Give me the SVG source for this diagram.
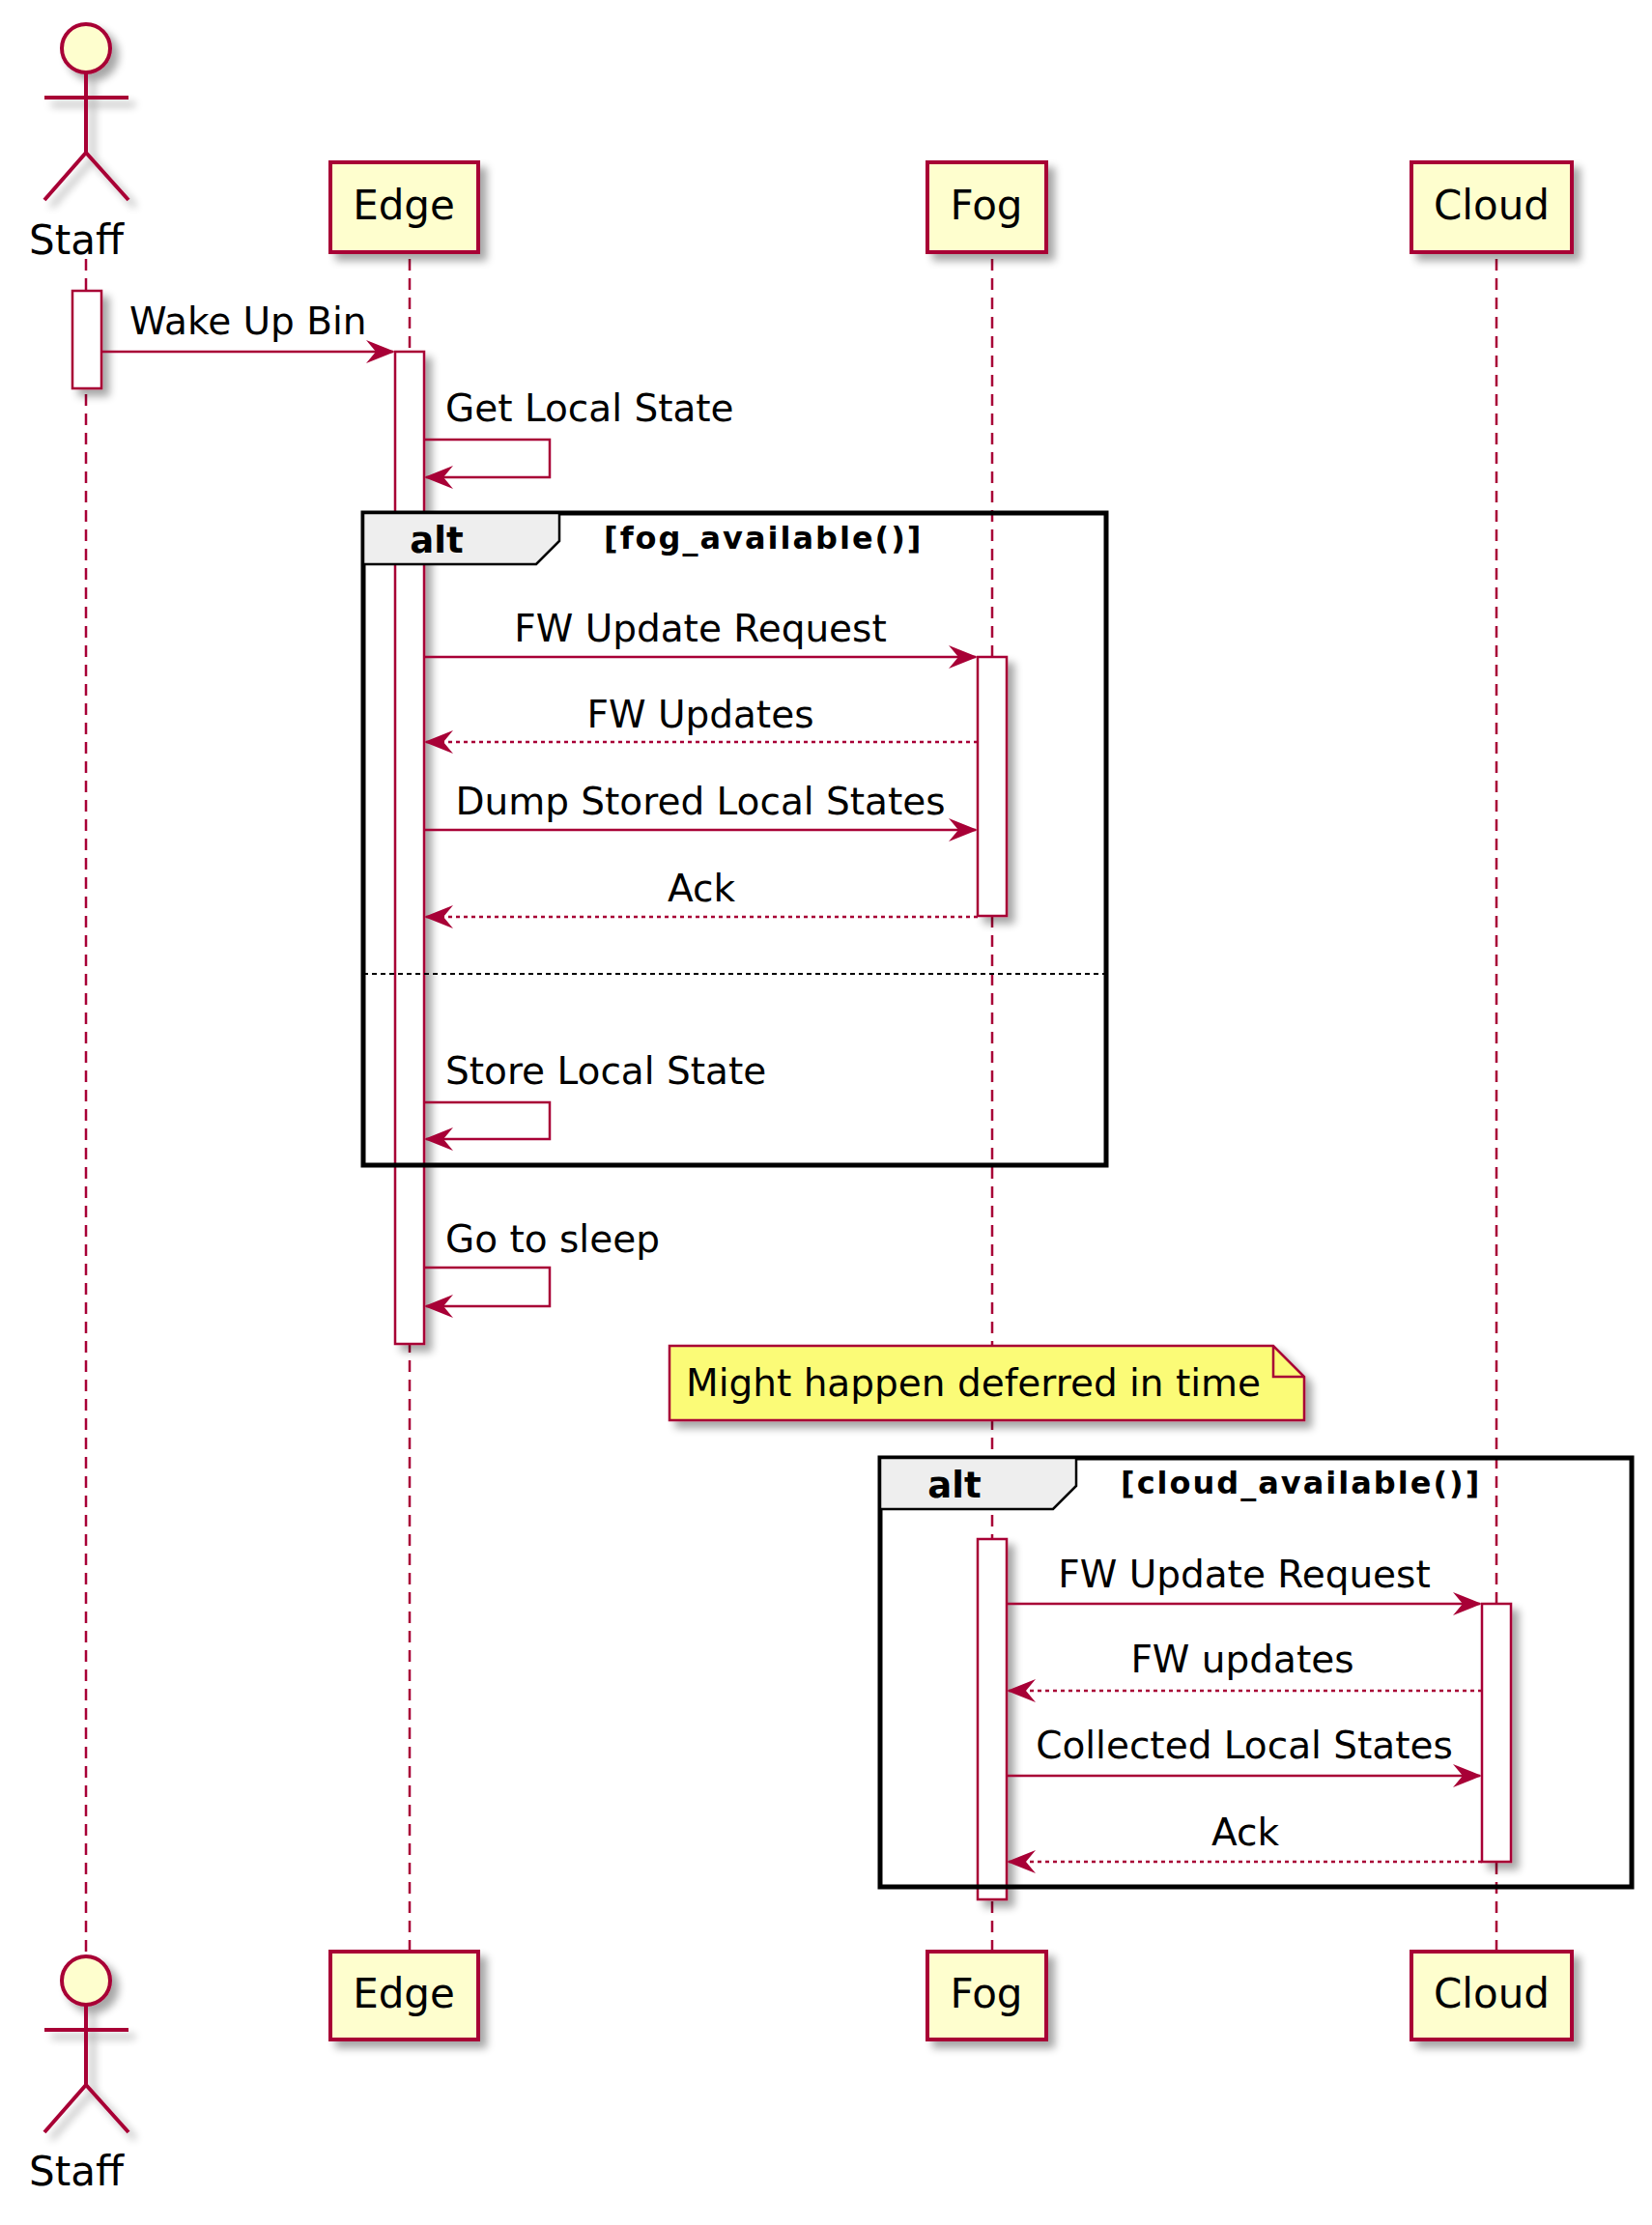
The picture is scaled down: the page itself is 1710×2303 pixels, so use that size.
<svg xmlns="http://www.w3.org/2000/svg" width="1710" height="2303" viewBox="0 0 1710 2303">
<defs>
<filter id="sh" x="-20%" y="-20%" width="150%" height="150%"><feGaussianBlur in="SourceAlpha" stdDeviation="4"/><feOffset dx="7" dy="7"/><feComponentTransfer><feFuncA type="linear" slope="0.35"/></feComponentTransfer><feMerge><feMergeNode/><feMergeNode in="SourceGraphic"/></feMerge></filter>
<marker id="ah" viewBox="0 0 30 24" refX="28" refY="12" markerWidth="30" markerHeight="24" markerUnits="userSpaceOnUse" orient="auto"><path d="M0,0 L30,12 L0,24 L10,12 Z" fill="#A80036"/></marker>
</defs>
<style>
.ll{stroke:#A80036;stroke-width:2.5;stroke-dasharray:12,8;fill:none}
.box{fill:#FEFECE;stroke:#A80036;stroke-width:4}
.act{fill:#FFFFFF;stroke:#A80036;stroke-width:2.5}
.msg{stroke:#A80036;stroke-width:2.5;fill:none;marker-end:url(#ah)}
.ret{stroke:#A80036;stroke-width:2.5;fill:none;stroke-dasharray:4,4;marker-end:url(#ah)}
.t{font-family:"DejaVu Sans",sans-serif;font-size:39px;fill:#000}
.pt{font-family:"DejaVu Sans",sans-serif;font-size:42px;fill:#000}
.frame{fill:none;stroke:#000;stroke-width:5}
.tab{fill:#EEEEEE;stroke:#000;stroke-width:2.5}
.ab{font-family:"DejaVu Sans",sans-serif;font-size:37px;font-weight:bold}
.cb{font-family:"DejaVu Sans",sans-serif;font-size:32px;font-weight:bold;letter-spacing:2px}
</style>
<g id="lifelines">
<line class="ll" x1="89" y1="268" x2="89" y2="2030"/>
<line class="ll" x1="424" y1="268" x2="424" y2="2020"/>
<line class="ll" x1="1027" y1="268" x2="1027" y2="2020"/>
<line class="ll" x1="1549" y1="268" x2="1549" y2="2020"/>
</g>
<g id="staff-top" filter="url(#sh)" stroke="#A80036" stroke-width="4" fill="none">
<circle cx="89" cy="50" r="25" fill="#FEFECE"/>
<line x1="89" y1="75" x2="89" y2="158"/><line x1="46" y1="101" x2="133" y2="101"/>
<polyline points="46,207 89,158 133,207"/>
</g>
<text class="pt" x="79" y="263" text-anchor="middle">Staff</text>
<g id="edge-top"><rect class="box" x="342" y="168" width="153" height="93" filter="url(#sh)"/><text class="pt" x="418" y="227" text-anchor="middle">Edge</text></g>
<g id="fog-top"><rect class="box" x="960" y="168" width="123" height="93" filter="url(#sh)"/><text class="pt" x="1021" y="227" text-anchor="middle">Fog</text></g>
<g id="cloud-top"><rect class="box" x="1461" y="168" width="166" height="93" filter="url(#sh)"/><text class="pt" x="1544" y="227" text-anchor="middle">Cloud</text></g>
<g id="staff-bottom">
<g filter="url(#sh)" stroke="#A80036" stroke-width="4" fill="none">
<circle cx="89" cy="2050" r="25" fill="#FEFECE"/>
<line x1="89" y1="2075" x2="89" y2="2158"/><line x1="46" y1="2101" x2="133" y2="2101"/>
<polyline points="46,2207 89,2158 133,2207"/></g>
<text class="pt" x="79" y="2262" text-anchor="middle">Staff</text>
</g>
<g id="edge-bottom"><rect class="box" x="342" y="2020" width="153" height="91" filter="url(#sh)"/><text class="pt" x="418" y="2078" text-anchor="middle">Edge</text></g>
<g id="fog-bottom"><rect class="box" x="960" y="2020" width="123" height="91" filter="url(#sh)"/><text class="pt" x="1021" y="2078" text-anchor="middle">Fog</text></g>
<g id="cloud-bottom"><rect class="box" x="1461" y="2020" width="166" height="91" filter="url(#sh)"/><text class="pt" x="1544" y="2078" text-anchor="middle">Cloud</text></g>
<g id="activations" filter="url(#sh)">
<rect class="act" x="75" y="301" width="30" height="101"/>
<rect class="act" x="409" y="364" width="30" height="1027"/>
<rect class="act" x="1012" y="680" width="30" height="268"/>
<rect class="act" x="1012" y="1593" width="30" height="373"/>
<rect class="act" x="1534" y="1660" width="30" height="267"/>
</g>
<g id="alt1">
<rect class="frame" x="376" y="531" width="769" height="675"/>
<path class="tab" d="M376,531 H579 V560 L555,584 H376 Z"/>
<text class="ab" x="452" y="572" text-anchor="middle">alt</text>
<text class="cb" x="625" y="568">[fog_available()]</text>
<line x1="376" y1="1008" x2="1145" y2="1008" stroke="#000" stroke-width="2" stroke-dasharray="5,4"/>
</g>
<g id="note">
<path d="M693,1393 H1318 L1350,1425 V1470 H693 Z" fill="#FBFB77" stroke="#A80036" stroke-width="2.5" filter="url(#sh)"/>
<path d="M1318,1393 V1425 H1350" fill="none" stroke="#A80036" stroke-width="2.5"/>
<text class="t" x="710" y="1445">Might happen deferred in time</text>
</g>
<g id="alt2">
<rect class="frame" x="911" y="1509" width="778" height="444"/>
<path class="tab" d="M911,1509 H1114 V1538 L1090,1562 H911 Z"/>
<text class="ab" x="988" y="1550" text-anchor="middle">alt</text>
<text class="cb" x="1160" y="1546">[cloud_available()]</text>
</g>
<g id="connectors">
<line class="msg" x1="105" y1="364" x2="407" y2="364"/>
<polyline class="msg" points="439,455 569,455 569,494 441,494"/>
<line class="msg" x1="439" y1="680" x2="1010" y2="680"/>
<line class="ret" x1="1012" y1="768" x2="441" y2="768"/>
<line class="msg" x1="439" y1="859" x2="1010" y2="859"/>
<line class="ret" x1="1012" y1="949" x2="441" y2="949"/>
<polyline class="msg" points="439,1141 569,1141 569,1179 441,1179"/>
<polyline class="msg" points="439,1312 569,1312 569,1352 441,1352"/>
<line class="msg" x1="1042" y1="1660" x2="1532" y2="1660"/>
<line class="ret" x1="1534" y1="1750" x2="1044" y2="1750"/>
<line class="msg" x1="1042" y1="1838" x2="1532" y2="1838"/>
<line class="ret" x1="1534" y1="1927" x2="1044" y2="1927"/>
</g>
<g id="labels">
<text class="t" x="134" y="346">Wake Up Bin</text>
<text class="t" x="461" y="436">Get Local State</text>
<text class="t" x="725" y="664" text-anchor="middle">FW Update Request</text>
<text class="t" x="725" y="753" text-anchor="middle">FW Updates</text>
<text class="t" x="725" y="843" text-anchor="middle">Dump Stored Local States</text>
<text class="t" x="726" y="933" text-anchor="middle">Ack</text>
<text class="t" x="461" y="1122">Store Local State</text>
<text class="t" x="461" y="1296">Go to sleep</text>
<text class="t" x="1288" y="1643" text-anchor="middle">FW Update Request</text>
<text class="t" x="1286" y="1731" text-anchor="middle">FW updates</text>
<text class="t" x="1288" y="1820" text-anchor="middle">Collected Local States</text>
<text class="t" x="1289" y="1910" text-anchor="middle">Ack</text>
</g>
</svg>
